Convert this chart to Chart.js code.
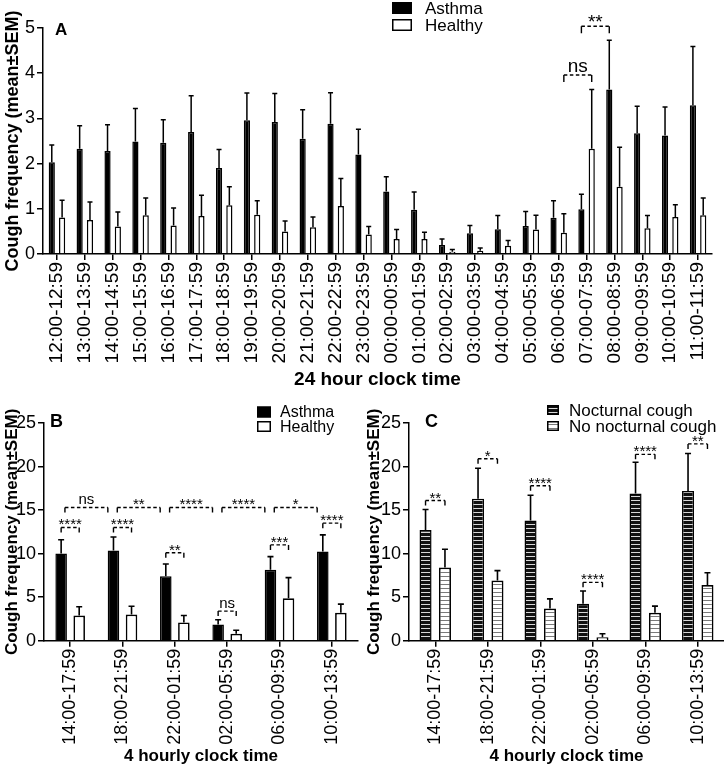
<!DOCTYPE html>
<html>
<head>
<title>Cough frequency by clock time</title>
<script src="https://cdn.jsdelivr.net/npm/chart.js"></script>
<style>
  body { margin: 0; background: #fff; }
  #wrap { position: relative; width: 724px; height: 767px; }
  .panel { position: absolute; }
  #boxA { left: 0; top: 0; }
  #boxB { left: 0; top: 395px; }
  #boxC { left: 362px; top: 395px; }
</style>
</head>
<body>
<div id="wrap">
  <div class="panel" id="boxA"><canvas id="chartA" width="724" height="395"></canvas></div>
  <div class="panel" id="boxB"><canvas id="chartB" width="362" height="372"></canvas></div>
  <div class="panel" id="boxC"><canvas id="chartC" width="362" height="372"></canvas></div>
</div>
<script>
// ---- data: panel A (hourly) ----
const hourLabels = ['12:00-12:59','13:00-13:59','14:00-14:59','15:00-15:59','16:00-16:59','17:00-17:59',
  '18:00-18:59','19:00-19:59','20:00-20:59','21:00-21:59','22:00-22:59','23:00-23:59',
  '00:00-00:59','01:00-01:59','02:00-02:59','03:00-03:59','04:00-04:59','05:00-05:59',
  '06:00-06:59','07:00-07:59','08:00-08:59','09:00-09:59','10:00-10:59','11:00-11:59'];
const asthmaMeanA = [2.03,2.33,2.28,2.49,2.46,2.70,1.90,2.96,2.92,2.55,2.88,2.20,1.38,0.98,0.20,0.46,0.55,0.62,0.80,0.99,3.64,2.67,2.62,3.29];
const asthmaSemA  = [0.38,0.51,0.58,0.73,0.51,0.80,0.41,0.60,0.63,0.64,0.69,0.56,0.33,0.39,0.13,0.17,0.30,0.32,0.38,0.33,1.09,0.60,0.63,1.30];
const healthyMeanA = [0.81,0.75,0.61,0.86,0.63,0.84,1.08,0.87,0.50,0.59,1.06,0.43,0.33,0.33,0.05,0.07,0.18,0.54,0.47,2.33,1.49,0.57,0.82,0.86];
const healthySemA  = [0.38,0.40,0.32,0.38,0.39,0.46,0.41,0.31,0.23,0.23,0.61,0.18,0.21,0.15,0.05,0.06,0.12,0.32,0.42,1.31,0.87,0.28,0.27,0.38];
// significance brackets: [category, dataset] -> [category, dataset]
const sigA = [
  { from: [18, 1], to: [19, 1], y: 3.96, text: 'ns' },
  { from: [19, 0], to: [20, 0], y: 5.04, text: '**' }
];

// ---- data: panels B and C (4 hourly) ----
const blockLabels = ['14:00-17:59','18:00-21:59','22:00-01:59','02:00-05:59','06:00-09:59','10:00-13:59'];
const asthmaMeanB  = [10.0, 10.35, 7.4, 1.85, 8.15, 10.25];
const asthmaSemB   = [1.6, 1.55, 1.4, 0.55, 1.5, 1.9];
const healthyMeanB = [2.9, 3.0, 2.1, 0.8, 4.87, 3.2];
const healthySemB  = [1.0, 0.95, 0.8, 0.4, 2.37, 1.0];
const pairSigB  = ['****','****','**','ns','***','****'];
const pairSigYB = [13.0, 13.0, 10.1, 3.4, 11.0, 13.5];
const groupSigB  = ['ns','**','****','****','*'];
const groupSigYB = [15.3, 15.3, 15.3, 15.3, 15.3];

const noctMean   = [12.7, 16.3, 13.8, 4.25, 16.9, 17.2];
const noctSem    = [2.36, 3.5, 2.9, 1.45, 3.6, 4.3];
const noNoctMean = [8.4, 6.9, 3.7, 0.4, 3.2, 6.4];
const noNoctSem  = [2.1, 1.15, 1.1, 0.4, 0.77, 1.4];
const pairSigC  = ['**','*','****','****','****','**'];
const pairSigYC = [16.1, 20.9, 17.8, 6.7, 21.4, 22.6];

const FAM = "'Liberation Sans', Arial, Helvetica, sans-serif";
Chart.defaults.font.family = FAM;
Chart.defaults.color = '#000';

function stripes(bg, fg) {
  const c = document.createElement('canvas');
  c.width = 4; c.height = 4;
  const g = c.getContext('2d');
  g.fillStyle = bg; g.fillRect(0, 0, 4, 4);
  g.fillStyle = fg; g.fillRect(0, 1, 4, 1);
  return g.createPattern(c, 'repeat');
}

function bracket(ctx, x1, x2, y, text, fs, tick) {
  ctx.save();
  ctx.strokeStyle = '#000';
  ctx.lineWidth = 1.4;
  ctx.beginPath();
  ctx.moveTo(x1, y + tick); ctx.lineTo(x1, y);
  ctx.moveTo(x2, y); ctx.lineTo(x2, y + tick);
  ctx.stroke();
  ctx.setLineDash([3.5, 2.5]);
  ctx.beginPath();
  ctx.moveTo(x1, y); ctx.lineTo(x2, y);
  ctx.stroke();
  ctx.setLineDash([]);
  ctx.fillStyle = '#000';
  ctx.font = fs + 'px ' + FAM;
  ctx.textAlign = 'center';
  ctx.textBaseline = 'alphabetic';
  const by = text === 'ns' ? y - 3 : y + 2;
  ctx.fillText(text, (x1 + x2) / 2, by);
  ctx.restore();
}

const decor = {
  id: 'decor',
  afterDatasetsDraw(chart, args, o) {
    const ctx = chart.ctx, ys = chart.scales.y, xs = chart.scales.x;
    // error bars (upper only)
    chart.data.datasets.forEach((ds, di) => {
      chart.getDatasetMeta(di).data.forEach((bar, i) => {
        const yTop = ys.getPixelForValue(ds.data[i] + ds.errors[i]);
        const half = o.cap;
        ctx.save();
        ctx.strokeStyle = '#000';
        ctx.lineWidth = o.errWidth;
        ctx.beginPath();
        ctx.moveTo(bar.x, bar.y); ctx.lineTo(bar.x, yTop);
        ctx.moveTo(bar.x - half, yTop); ctx.lineTo(bar.x + half, yTop);
        ctx.stroke();
        ctx.restore();
      });
    });
    // brackets between bars
    const barX = (c, d) => chart.getDatasetMeta(d).data[c].x;
    (o.sig || []).forEach(s => {
      bracket(ctx, barX(s.from[0], s.from[1]), barX(s.to[0], s.to[1]), ys.getPixelForValue(s.y), s.text, o.sigSize, o.tick);
    });
    (o.pairText || []).forEach((t, i) => {
      bracket(ctx, barX(i, 0), barX(i, 1), ys.getPixelForValue(o.pairY[i]), t, o.sigSize, o.tick);
    });
    (o.groupText || []).forEach((t, i) => {
      bracket(ctx, xs.getPixelForValue(i - 0.1), xs.getPixelForValue(i + 0.72), ys.getPixelForValue(o.groupY[i]), t, o.sigSize, o.tick);
    });
    // legend
    const lg = o.legend;
    ctx.save();
    chart.data.datasets.forEach((ds, di) => {
      const y = lg.y + di * lg.step;
      ctx.fillStyle = ds.backgroundColor;
      ctx.fillRect(lg.x, y - lg.h / 2, lg.w, lg.h);
      ctx.strokeStyle = '#000';
      ctx.lineWidth = 1.5;
      ctx.strokeRect(lg.x + 0.75, y - lg.h / 2 + 0.75, lg.w - 1.5, lg.h - 1.5);
      ctx.fillStyle = '#000';
      ctx.font = lg.size + 'px ' + FAM;
      ctx.textAlign = 'left';
      ctx.textBaseline = 'middle';
      ctx.fillText(ds.label, lg.x + lg.w + lg.gap, y + 1);
    });
    // panel letter
    ctx.font = 'bold ' + o.letter.size + 'px ' + FAM;
    ctx.textAlign = 'left';
    ctx.textBaseline = 'middle';
    ctx.fillText(o.letter.text, o.letter.x, o.letter.y);
    ctx.restore();
  }
};

function yAxis(max, step, width, titleSize) {
  return {
    min: 0, max: max,
    ticks: { stepSize: step, color: '#000', font: { size: 18 }, padding: 2 },
    grid: { drawOnChartArea: false, drawTicks: true, tickLength: 6, color: '#000', lineWidth: 1.5 },
    border: { color: '#000', width: 1.5 },
    title: { display: true, text: 'Cough frequency (mean±SEM)', color: '#000',
             font: { size: titleSize, weight: 'bold' }, padding: { top: 2, bottom: 0 } },
    afterFit(s) { s.width = width; }
  };
}
function xAxis(height, tickSize, title, titleSize, titlePad) {
  return {
    ticks: { minRotation: 90, maxRotation: 90, color: '#000', font: { size: tickSize }, padding: 2, autoSkip: false },
    grid: { drawOnChartArea: false, drawTicks: true, tickLength: 6, color: '#000', lineWidth: 1.5, offset: false },
    border: { color: '#000', width: 1.5 },
    title: { display: true, text: title, color: '#000', font: { size: titleSize, weight: 'bold' },
             padding: { top: 0, bottom: titlePad } },
    afterFit(s) { s.height = height; }
  };
}
const common = { responsive: false, animation: false, events: [] };

// ---- Panel A ----
new Chart(document.getElementById('chartA'), {
  type: 'bar',
  data: {
    labels: hourLabels,
    datasets: [
      { label: 'Asthma', data: asthmaMeanA, errors: asthmaSemA, backgroundColor: '#000', borderColor: '#000', borderWidth: 1.5 },
      { label: 'Healthy', data: healthyMeanA, errors: healthySemA, backgroundColor: '#fff', borderColor: '#000', borderWidth: 1.5 }
    ]
  },
  options: Object.assign({}, common, {
    barPercentage: 0.6, categoryPercentage: 0.74,
    layout: { padding: { left: 0, right: 12, top: 28, bottom: 3.6 } },
    scales: { x: xAxis(137.4, 19, '24 hour clock time', 19, 0), y: yAxis(5, 1, 43, 18) },
    plugins: {
      legend: { display: false }, tooltip: { enabled: false },
      decor: { cap: 2.5, errWidth: 1.5, sig: sigA, sigSize: 19, tick: 7,
               legend: { x: 392, y: 8, step: 17, w: 20, h: 12, gap: 13, size: 17 },
               letter: { text: 'A', x: 55, y: 30, size: 17 } }
    }
  }),
  plugins: [decor]
});

// ---- Panel B ----
new Chart(document.getElementById('chartB'), {
  type: 'bar',
  data: {
    labels: blockLabels,
    datasets: [
      { label: 'Asthma', data: asthmaMeanB, errors: asthmaSemB, backgroundColor: '#000', borderColor: '#000', borderWidth: 1.5 },
      { label: 'Healthy', data: healthyMeanB, errors: healthySemB, backgroundColor: '#fff', borderColor: '#000', borderWidth: 1.7 }
    ]
  },
  options: Object.assign({}, common, {
    barPercentage: 0.64, categoryPercentage: 0.69,
    layout: { padding: { left: 0, right: 4, top: 28, bottom: 0 } },
    scales: { x: xAxis(126.3, 18, '4 hourly clock time', 17, 0), y: yAxis(25, 5, 44, 17) },
    plugins: {
      legend: { display: false }, tooltip: { enabled: false },
      decor: { cap: 3, errWidth: 1.6, pairText: pairSigB, pairY: pairSigYB, groupText: groupSigB, groupY: groupSigYB,
               sigSize: 15, tick: 5,
               legend: { x: 257, y: 17, step: 14.5, w: 14, h: 11, gap: 9, size: 16 },
               letter: { text: 'B', x: 50, y: 27, size: 18 } }
    }
  }),
  plugins: [decor]
});

// ---- Panel C ----
new Chart(document.getElementById('chartC'), {
  type: 'bar',
  data: {
    labels: blockLabels,
    datasets: [
      { label: 'Nocturnal cough', data: noctMean, errors: noctSem, backgroundColor: stripes('#111', '#d8d8d8'), borderColor: '#000', borderWidth: 1.5 },
      { label: 'No nocturnal cough', data: noNoctMean, errors: noNoctSem, backgroundColor: stripes('#fff', '#7a7a7a'), borderColor: '#000', borderWidth: 1.7 }
    ]
  },
  options: Object.assign({}, common, {
    barPercentage: 0.62, categoryPercentage: 0.74,
    layout: { padding: { left: 0, right: 0, top: 28, bottom: 0 } },
    scales: { x: xAxis(126.3, 18, '4 hourly clock time', 17, 0), y: yAxis(25, 5, 47, 17) },
    plugins: {
      legend: { display: false }, tooltip: { enabled: false },
      decor: { cap: 3, errWidth: 1.6, pairText: pairSigC, pairY: pairSigYC, sigSize: 15, tick: 5,
               legend: { x: 185, y: 15, step: 16, w: 12, h: 10, gap: 10, size: 17 },
               letter: { text: 'C', x: 63, y: 27, size: 18 } }
    }
  }),
  plugins: [decor]
});
</script>
</body>
</html>
